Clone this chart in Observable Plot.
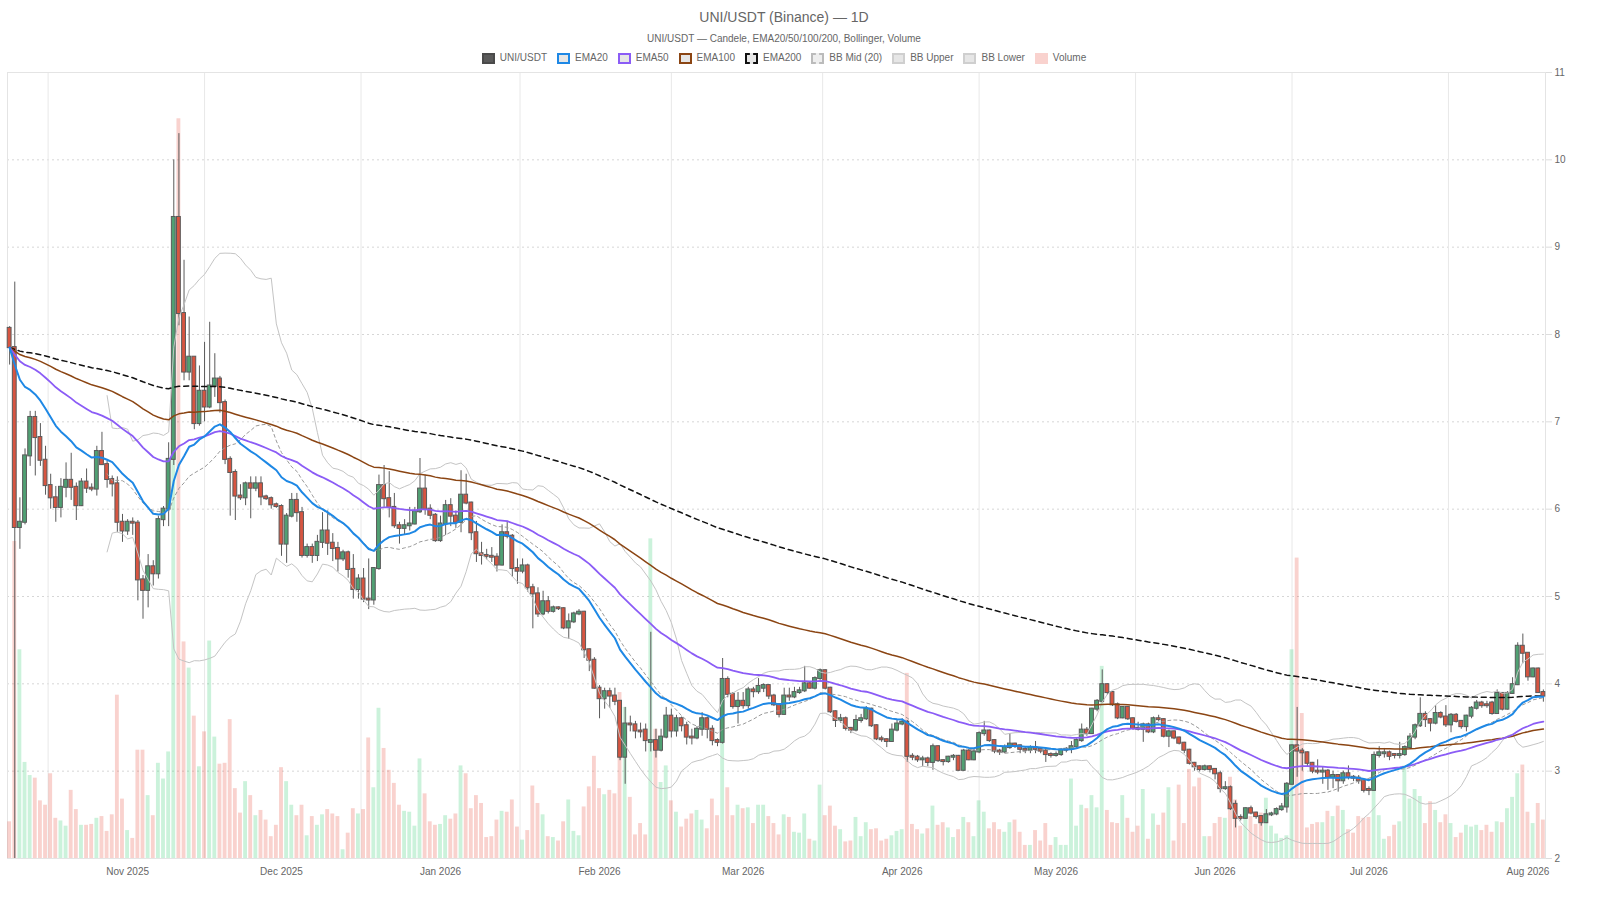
<!DOCTYPE html>
<html>
<head>
<meta charset="utf-8">
<script src="https://cdn.jsdelivr.net/npm/d3@7"></script>
<script src="https://cdn.jsdelivr.net/npm/@observablehq/plot@0.6"></script>
<style>
  body { margin: 0; background: #fff; font-family: "Helvetica Neue", Helvetica, Arial, sans-serif; }
  #wrap { position: relative; width: 1600px; height: 900px; overflow: hidden; background: #fff; }
  #title { position: absolute; top: 8px; left: 0; width: 1568px; text-align: center; font-size: 14px; line-height: 18px; color: #666; }
  #subtitle { position: absolute; top: 33px; left: 0; width: 1568px; text-align: center; font-size: 10px; line-height: 12px; color: #666; }
  #legend { position: absolute; top: 52px; left: 0; width: 1568px; display: flex; justify-content: center; font-size: 10px; line-height: 12px; color: #666; }
  .item { display: inline-flex; align-items: center; margin: 0 5px; white-space: nowrap; }
  .box { display: inline-block; width: 13px; height: 11px; box-sizing: border-box; border: 2px solid; margin-right: 5px; }
  .layer { position: absolute; left: 0; top: 64px; }
</style>
</head>
<body>
<div id="wrap">
  <div id="title">UNI/USDT (Binance) — 1D</div>
  <div id="subtitle">UNI/USDT — Candele, EMA20/50/100/200, Bollinger, Volume</div>
  <div id="legend">
    <span class="item"><span class="box" style="background:#5a5a5a;border-color:#4a4a4a"></span>UNI/USDT</span>
    <span class="item"><span class="box" style="background:#e6e6e6;border-color:#1e88e5"></span>EMA20</span>
    <span class="item"><span class="box" style="background:#e6e6e6;border-color:#8b5cf6"></span>EMA50</span>
    <span class="item"><span class="box" style="background:#e6e6e6;border-color:#8b4513"></span>EMA100</span>
    <span class="item"><span class="box" style="background:#e6e6e6;border:2px dashed #111"></span>EMA200</span>
    <span class="item"><span class="box" style="background:#eeeeee;border:2px dashed #bbb"></span>BB Mid (20)</span>
    <span class="item"><span class="box" style="background:#e6e6e6;border-color:#cfcfcf"></span>BB Upper</span>
    <span class="item"><span class="box" style="background:#e6e6e6;border-color:#cfcfcf"></span>BB Lower</span>
    <span class="item"><span class="box" style="background:#f9d2ce;border-color:#f9d2ce"></span>Volume</span>
  </div>
  <div id="chart"></div>
</div>
<script>
// ---- data (daily candles starting at startDay) ----
const startDay = "2025-10-09";
const open = [
8.07,7.85,5.79,5.85,6.61,7.05,6.82,6.56,6.27,6.13,
6.02,6.25,6.33,6.25,6.04,6.31,6.24,6.23,6.66,6.51,
6.34,6.29,5.85,5.75,5.85,5.84,5.19,5.07,5.34,5.26,
5.88,6.00,6.57,9.34,8.24,7.57,7.74,6.98,7.35,7.17,
7.41,7.49,7.22,6.57,6.42,6.15,6.13,6.29,6.24,6.29,
6.14,6.12,6.05,6.03,5.60,5.92,6.10,5.96,5.47,5.56,
5.47,5.62,5.75,5.61,5.55,5.43,5.50,5.31,5.08,5.20,
4.97,4.96,5.32,6.27,6.12,6.02,5.81,5.78,5.81,5.83,
5.97,6.23,6.00,5.93,5.64,5.83,6.04,5.92,5.85,6.16,
6.07,5.73,5.49,5.47,5.46,5.45,5.36,5.73,5.69,5.32,
5.29,5.35,5.10,5.03,4.80,4.94,4.83,4.87,4.86,4.64,
4.71,4.80,4.82,4.39,4.27,3.95,3.83,3.91,3.86,3.80,
3.16,3.54,3.53,3.46,3.47,3.33,3.35,3.24,3.39,3.63,
3.46,3.60,3.52,3.39,3.38,3.48,3.60,3.48,3.35,3.33,
4.05,3.88,3.74,3.80,3.75,3.93,3.91,3.95,3.98,3.86,
3.76,3.65,3.86,3.85,3.90,3.92,4.00,3.95,4.06,4.15,
3.95,3.68,3.58,3.60,3.49,3.47,3.58,3.60,3.71,3.52,
3.37,3.36,3.34,3.47,3.54,3.56,3.17,3.16,3.13,3.14,
3.10,3.28,3.12,3.11,3.16,3.17,3.01,3.23,3.13,3.22,
3.43,3.46,3.35,3.23,3.22,3.27,3.31,3.29,3.25,3.24,
3.27,3.25,3.23,3.19,3.18,3.19,3.24,3.25,3.28,3.35,
3.47,3.43,3.71,3.80,3.99,3.90,3.76,3.61,3.73,3.60,
3.49,3.48,3.53,3.45,3.60,3.59,3.40,3.45,3.38,3.32,
3.24,3.09,3.05,3.02,3.05,3.02,2.97,2.80,2.81,2.62,
2.47,2.46,2.57,2.52,2.48,2.41,2.50,2.51,2.56,2.59,
2.85,3.29,3.23,3.21,3.09,3.00,2.99,3.00,2.93,2.95,
2.89,2.97,2.93,2.92,2.89,2.79,2.78,3.18,3.20,3.21,
3.19,3.18,3.19,3.27,3.39,3.52,3.65,3.59,3.55,3.66,
3.62,3.53,3.64,3.57,3.51,3.63,3.72,3.78,3.76,3.78,
3.66,3.89,3.71,3.89,3.99,4.43,4.35,4.08,4.17,3.90
];
const high = [
8.09,8.60,6.13,6.69,7.12,7.12,6.98,6.72,6.40,6.26,
6.35,6.53,6.64,6.30,6.35,6.46,6.29,6.72,6.88,6.55,
6.38,6.37,5.94,5.88,5.90,5.87,5.24,5.48,5.41,5.92,
6.03,6.76,10.00,10.30,8.85,8.20,7.74,7.64,7.91,8.14,
7.78,7.52,7.25,6.60,6.45,6.28,6.31,6.37,6.37,6.37,
6.16,6.14,6.07,6.05,5.95,6.18,6.18,6.02,5.60,5.60,
5.70,5.96,5.98,5.72,5.62,5.53,5.52,5.48,5.25,5.32,
5.43,5.33,6.39,6.50,6.43,6.18,5.85,5.88,6.02,6.02,
6.58,6.39,6.05,5.95,5.92,6.10,6.12,5.98,6.44,6.40,
6.08,5.86,5.62,5.54,5.56,5.49,5.82,5.86,5.71,5.43,
5.43,5.37,5.14,5.10,5.06,5.00,4.89,4.88,4.87,4.80,
4.82,4.85,4.83,4.40,4.30,3.98,3.95,3.95,3.95,3.80,
3.73,3.63,3.57,3.55,3.54,4.59,3.48,3.48,3.73,3.71,
3.64,3.62,3.56,3.48,3.51,3.67,3.62,3.52,3.37,4.29,
4.08,3.90,3.90,3.90,3.96,3.96,4.06,4.00,3.99,3.88,
3.77,3.95,3.95,3.96,3.96,4.20,4.02,4.08,4.17,4.16,
3.96,3.69,3.65,3.62,3.50,3.64,3.65,3.74,3.72,3.53,
3.40,3.37,3.54,3.58,3.60,3.58,3.20,3.18,3.17,3.16,
3.31,3.29,3.13,3.17,3.19,3.18,3.25,3.25,3.26,3.45,
3.57,3.47,3.36,3.25,3.30,3.43,3.32,3.30,3.27,3.29,
3.34,3.26,3.25,3.21,3.22,3.26,3.27,3.34,3.37,3.54,
3.50,3.72,3.82,4.16,4.00,3.91,3.78,3.74,3.74,3.61,
3.56,3.55,3.55,3.62,3.64,3.60,3.47,3.46,3.39,3.33,
3.25,3.10,3.06,3.07,3.06,3.03,3.00,2.88,2.83,2.66,
2.50,2.58,2.60,2.53,2.49,2.56,2.53,2.58,2.63,2.87,
3.30,3.73,3.26,3.22,3.10,3.13,3.05,3.02,3.00,2.96,
3.00,3.06,2.95,2.95,2.90,2.82,3.22,3.28,3.26,3.23,
3.20,3.33,3.29,3.43,3.54,3.84,3.68,3.60,3.75,3.68,
3.75,3.66,3.66,3.58,3.64,3.74,3.81,3.80,3.80,3.80,
3.93,3.90,3.91,4.07,4.47,4.57,4.35,4.18,4.18,3.93
];
const low = [
7.65,2.00,5.54,5.82,6.49,6.38,6.49,6.16,6.00,5.85,
5.90,6.13,6.10,5.87,6.03,6.18,6.20,6.15,6.50,6.24,
6.14,5.73,5.62,5.70,5.70,4.95,4.74,4.87,5.12,5.20,
5.80,5.80,6.50,8.10,7.47,7.47,6.91,6.95,7.00,7.15,
7.28,7.10,6.51,5.92,5.87,6.10,6.04,5.89,6.20,6.04,
6.10,6.00,6.01,5.46,5.38,5.90,5.85,5.44,5.44,5.38,
5.40,5.55,5.47,5.40,5.28,5.40,5.21,4.97,4.97,4.93,
4.85,4.90,5.30,6.02,5.90,5.78,5.60,5.70,5.75,5.82,
5.95,5.93,5.88,5.62,5.62,5.70,5.80,5.78,5.73,6.05,
5.64,5.39,5.36,5.42,5.39,5.28,5.35,5.66,5.22,5.14,
5.26,5.05,4.63,4.76,4.78,4.80,4.81,4.84,4.62,4.51,
4.69,4.78,4.29,4.14,3.94,3.60,3.71,3.72,3.75,3.12,
2.85,3.45,3.37,3.38,3.22,3.22,3.15,3.22,3.37,3.38,
3.39,3.45,3.30,3.30,3.36,3.40,3.37,3.29,3.28,3.31,
3.84,3.71,3.54,3.71,3.71,3.84,3.88,3.90,3.82,3.74,
3.61,3.64,3.80,3.83,3.88,3.90,3.94,3.93,4.04,3.93,
3.66,3.50,3.55,3.46,3.43,3.45,3.55,3.58,3.50,3.35,
3.33,3.27,3.33,3.45,3.52,3.10,3.12,3.10,3.05,3.05,
3.01,3.10,3.06,3.09,3.12,3.00,3.00,3.12,3.12,3.20,
3.40,3.33,3.20,3.18,3.20,3.25,3.26,3.20,3.20,3.20,
3.20,3.20,3.10,3.15,3.16,3.17,3.21,3.20,3.25,3.33,
3.40,3.42,3.68,3.78,3.87,3.74,3.59,3.60,3.58,3.47,
3.46,3.33,3.43,3.43,3.57,3.38,3.27,3.36,3.30,3.20,
3.07,3.00,2.99,3.00,2.98,2.90,2.75,2.78,2.55,2.35,
2.43,2.45,2.50,2.45,2.37,2.40,2.48,2.49,2.54,2.52,
2.84,2.93,3.00,3.05,2.97,2.96,2.85,2.78,2.80,2.76,
2.85,2.90,2.88,2.85,2.75,2.72,2.77,3.15,3.15,3.12,
3.14,3.14,3.17,3.25,3.36,3.50,3.50,3.45,3.53,3.60,
3.50,3.44,3.55,3.48,3.45,3.60,3.70,3.72,3.72,3.64,
3.65,3.69,3.70,3.88,3.98,4.23,4.03,4.07,3.89,3.79
];
const close = [
7.85,5.79,5.85,6.61,7.05,6.82,6.56,6.27,6.13,6.02,
6.25,6.33,6.25,6.04,6.31,6.24,6.23,6.66,6.51,6.34,
6.29,5.85,5.75,5.85,5.84,5.19,5.07,5.34,5.26,5.88,
6.00,6.57,9.34,8.24,7.57,7.74,6.98,7.35,7.17,7.41,
7.49,7.22,6.57,6.42,6.15,6.13,6.29,6.24,6.29,6.14,
6.12,6.05,6.03,5.60,5.92,6.10,5.96,5.47,5.56,5.47,
5.62,5.75,5.61,5.55,5.43,5.50,5.31,5.08,5.20,4.97,
4.96,5.32,6.27,6.12,6.02,5.81,5.78,5.81,5.83,5.97,
6.23,6.00,5.93,5.64,5.83,6.04,5.92,5.85,6.16,6.07,
5.73,5.49,5.47,5.46,5.45,5.36,5.73,5.69,5.32,5.29,
5.35,5.10,5.03,4.80,4.94,4.83,4.87,4.86,4.64,4.71,
4.80,4.82,4.39,4.27,3.95,3.83,3.91,3.86,3.80,3.16,
3.54,3.53,3.46,3.45,3.35,3.35,3.24,3.39,3.63,3.46,
3.60,3.52,3.39,3.38,3.48,3.60,3.48,3.35,3.33,4.05,
3.88,3.74,3.80,3.75,3.93,3.91,3.97,3.98,3.86,3.76,
3.65,3.86,3.85,3.90,3.92,4.00,3.95,4.06,4.15,3.95,
3.68,3.58,3.60,3.49,3.47,3.58,3.60,3.71,3.52,3.37,
3.36,3.34,3.47,3.54,3.56,3.17,3.16,3.13,3.14,3.10,
3.28,3.12,3.11,3.16,3.17,3.01,3.23,3.13,3.22,3.43,
3.46,3.35,3.23,3.22,3.27,3.31,3.29,3.25,3.24,3.27,
3.25,3.23,3.19,3.18,3.19,3.24,3.25,3.28,3.35,3.47,
3.43,3.71,3.80,3.99,3.90,3.76,3.61,3.73,3.60,3.49,
3.48,3.53,3.45,3.60,3.59,3.40,3.45,3.38,3.32,3.24,
3.09,3.05,3.02,3.05,3.02,2.97,2.80,2.81,2.57,2.46,
2.46,2.57,2.52,2.48,2.41,2.50,2.51,2.56,2.59,2.85,
3.29,3.23,3.21,3.09,3.00,2.99,3.00,2.93,2.95,2.89,
2.97,2.93,2.92,2.89,2.78,2.78,3.18,3.21,3.21,3.17,
3.18,3.19,3.27,3.39,3.52,3.65,3.59,3.55,3.66,3.62,
3.53,3.64,3.57,3.51,3.63,3.72,3.78,3.75,3.75,3.66,
3.89,3.71,3.89,3.99,4.43,4.35,4.08,4.17,3.90,3.86
];
// volume in relative units (tallest bar ~85)
const volume = [
4.2,36.3,23.9,11.0,9.5,9.2,6.6,6.1,9.7,4.6,
4.3,3.7,7.8,5.6,3.8,3.8,3.9,4.6,4.8,3.1,
5.0,18.7,6.8,3.2,2.3,12.4,12.4,7.2,4.9,10.9,
9.1,12.2,48,84.7,24.8,21.8,16.3,10.5,14.5,24.9,
13.9,10.8,10.9,15.9,8.0,5.2,8.8,7.2,4.9,5.5,
4.4,2.5,3.8,10.4,8.8,6.1,4.9,6.1,2.6,4.8,
3.8,5.0,5.6,5.1,4.8,1.0,2.9,5.7,5.1,5.6,
13.8,8.1,17.2,12.6,10.1,8.6,6.1,5.4,5.3,3.7,
11.4,7.4,4.2,3.8,3.9,4.9,4.5,5.1,10.6,9.7,
5.7,7.2,6.3,2.4,2.5,4.4,5.4,5.3,6.7,3.6,
2.1,3.2,8.3,6.3,5.0,2.5,2.4,2.0,4.2,6.7,
3.1,2.6,5.9,8.2,11.7,8.0,7.3,7.8,7.4,19.0,
17.3,7.0,2.7,4.0,2.7,36.6,14.8,8.7,10.6,6.6,
5.3,3.6,4.5,5.1,5.5,4.4,3.4,6.8,4.9,19.7,
8.1,4.9,6.1,5.7,5.8,4.0,6.1,6.1,4.8,4.0,
2.7,5.0,4.7,3.0,2.9,5.1,2.2,2.0,8.4,4.9,
6.0,3.7,3.3,1.9,2.0,4.7,2.5,4.1,3.3,3.4,
2.0,2.2,2.6,3.1,3.3,21.2,3.9,3.3,2.8,3.4,
6.0,3.8,4.1,3.5,2.4,3.3,4.7,4.1,2.5,6.6,
5.3,3.4,4.1,3.3,3.0,4.1,4.4,3.0,1.5,1.5,
3.2,2.0,4.0,1.5,2.4,1.5,1.5,9.1,3.7,6.1,
5.7,7.2,5.8,22,5.5,4.1,4.0,7.2,4.6,3.0,
3.7,7.9,2.2,5.1,3.8,5.2,8.1,2.0,8.4,4.0,
10.2,8.2,9.2,2.5,2.5,4.0,4.7,4.6,9.3,6.7,
3.7,5.2,4.8,3.9,5.2,6.9,3.7,2.8,2.3,2.6,
23.9,34.4,16.6,3.5,3.9,4.1,4.1,5.4,4.8,6.0,
5.5,3.3,2.9,4.8,4.6,4.7,10.4,4.9,2.2,2.5,
3.8,4.2,10.6,6.8,7.9,7.1,4.0,6.5,5.5,4.1,
5.0,4.0,2.4,2.9,3.8,3.6,3.8,3.2,3.8,3.0,
4.2,4.1,5.7,7.0,9.7,10.7,5.3,4.0,6.3,4.4
];
const monthTicks = ["2025-11-01","2025-12-01","2026-01-01","2026-02-01","2026-03-01","2026-04-01","2026-05-01","2026-06-01","2026-07-01","2026-08-01"];
const priceTicks = [2,3,4,5,6,7,8,9,10,11];

// ---- colours ----
const UP = "rgb(80,160,115)", DOWN = "rgb(215,85,65)", EDGE = "#5a5a5a";
const VUP = "rgba(46,204,113,0.25)", VDOWN = "rgba(231,76,60,0.25)";

// ---- table ----
const t0 = new Date(startDay);
const data = open.map((o, i) => ({
  date: d3.utcDay.offset(t0, i),
  open: o, high: high[i], low: low[i], close: close[i], volume: volume[i],
  up: close[i] >= o
}));
const N = data.length;

// indicators derived from closes
const ema = n => S => { const a = 2 / (n + 1); const out = []; let p; for (let i = 0; i < S.length; i++) { p = i === 0 ? S[i] : a * S[i] + (1 - a) * p; out.push(p); } return out; };
const boll = (n, k) => S => { const out = []; for (let i = 0; i < S.length; i++) { if (i < n - 1) { out.push(NaN); continue; } let m = 0; for (let j = i - n + 1; j <= i; j++) m += S[j]; m /= n; let v = 0; for (let j = i - n + 1; j <= i; j++) v += (S[j] - m) ** 2; out.push(m + k * Math.sqrt(v / n)); } return out; };

const monthDates = monthTicks.map(s => new Date(s));
const xDomain = [d3.utcHour.offset(data[0].date, -10), d3.utcHour.offset(data[N - 1].date, 10)];
const allMonths = d3.utcMonth.range(d3.utcMonth.floor(xDomain[0]), d3.utcMonth.offset(xDomain[1], 2));
const gridDates = d3.pairs(allMonths).map(([a, b]) => new Date((+a + +b) / 2)).filter(d => d > xDomain[0] && d < xDomain[1]);

const common = {
  width: 1600, height: 836, marginTop: 8, marginBottom: 42, marginLeft: 7, marginRight: 55,
  style: { background: "transparent", fontFamily: "'Helvetica Neue', Helvetica, Arial, sans-serif", fontSize: "10px", overflow: "visible" }
};
const bx1 = d => d3.utcHour.offset(d.date, -9);
const bx2 = d => d3.utcHour.offset(d.date, 9);

const base = Plot.plot({
  ...common,
  x: { type: "utc", domain: xDomain },
  y: { domain: [2, 11] },
  marks: [
    Plot.ruleY(priceTicks, { stroke: "#d6d6d6", strokeDasharray: "2,3" }),
    Plot.ruleX(gridDates, { stroke: "#e8e8e8" }),
    Plot.frame({ stroke: "#e4e4e4" }),
    Plot.axisX({ ticks: monthDates, tickFormat: d3.utcFormat("%b %Y"), tickSize: 0, tickPadding: 9, fill: "#666", label: null }),
    Plot.axisY({ anchor: "right", ticks: priceTicks, tickSize: 6, tickPadding: 3, stroke: "#ddd", fill: "#666", label: null })
  ]
});

const vol = Plot.plot({
  ...common,
  x: { type: "utc", domain: xDomain, axis: null },
  y: { domain: [0, 90], axis: null },
  color: { type: "identity" },
  marks: [
    Plot.rectY(data, { x1: bx1, x2: bx2, y: "volume", fill: d => d.up ? VUP : VDOWN })
  ]
});

const price = Plot.plot({
  ...common,
  x: { type: "utc", domain: xDomain, axis: null },
  y: { domain: [2, 11], axis: null },
  color: { type: "identity" },
  marks: [
    Plot.ruleX(data, { x: "date", y1: "low", y2: "high", stroke: EDGE, strokeWidth: 1 }),
    Plot.rect(data, { x1: bx1, x2: bx2, y1: "open", y2: "close", insetTop: -0.5, insetBottom: -0.5, fill: d => d.up ? UP : DOWN, stroke: EDGE, strokeWidth: 1 }),
    Plot.lineY(data, Plot.mapY(boll(20, 2), { x: "date", y: "close", stroke: "#c4c4c4", strokeWidth: 1 })),
    Plot.lineY(data, Plot.mapY(boll(20, -2), { x: "date", y: "close", stroke: "#c4c4c4", strokeWidth: 1 })),
    Plot.lineY(data, Plot.mapY(boll(20, 0), { x: "date", y: "close", stroke: "#999", strokeWidth: 1, strokeDasharray: "3,3" })),
    Plot.lineY(data, Plot.mapY(ema(200), { x: "date", y: "close", stroke: "#111", strokeWidth: 1.5, strokeDasharray: "5,4" })),
    Plot.lineY(data, Plot.mapY(ema(100), { x: "date", y: "close", stroke: "#8b4513", strokeWidth: 1.5 })),
    Plot.lineY(data, Plot.mapY(ema(50), { x: "date", y: "close", stroke: "#8b5cf6", strokeWidth: 1.8 })),
    Plot.lineY(data, Plot.mapY(ema(20), { x: "date", y: "close", stroke: "#1e88e5", strokeWidth: 2 }))
  ]
});

const chart = document.getElementById("chart");
for (const svg of [base, vol, price]) { svg.classList.add("layer"); svg.style.position = "absolute"; svg.style.left = "0px"; svg.style.top = "64px"; chart.appendChild(svg); }
</script>
</body>
</html>
